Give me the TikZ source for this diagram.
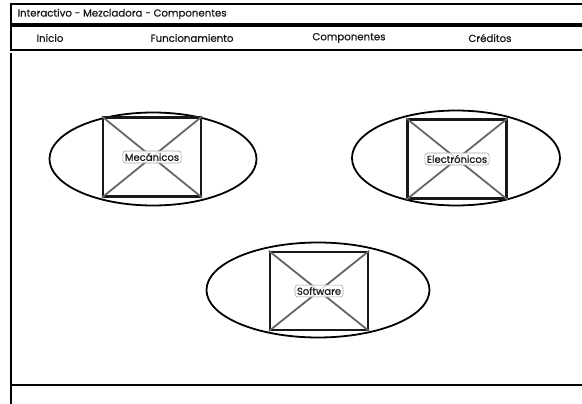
\documentclass[tikz,border=0pt]{standalone}
\usepackage{fontspec}
\setmainfont{Poppins}[FakeBold=0.6]
\usetikzlibrary{shapes.geometric}
\begin{document}
\begin{tikzpicture}[x=1pt,y=-1pt,
  frame/.style={draw=black,line width=2pt},
  oval/.style={draw=black,line width=1.8pt,ellipse,inner sep=0pt},
  imgbox/.style={draw=black!90,line width=2.2pt,inner sep=0pt},
  cross/.style={draw=black!60,line width=1.8pt},
  tag/.style={draw=black!35,line width=0.6pt,fill=white,fill opacity=0.85,text opacity=1,rounded corners=2.5pt,inner sep=2pt,font=\fontsize{10}{12}\selectfont},
  navtext/.style={font=\fontsize{10.2}{12}\selectfont,anchor=center},
  every node/.append style={text=black!90}]
\useasboundingbox (0,0) rectangle (582,404);
\fill[white] (0,0) rectangle (582,404);

% window title bar
\draw[frame] (582,4) -- (11,4) -- (11,24) -- (582,24);
\node[navtext,anchor=west] (title) at (14,14) {Interactivo - Mezcladora - Componentes};

% navigation bar
\draw[frame] (582,26) -- (11,26) -- (11,50) -- (582,50);
\node[navtext] (inicio) at (50,38) {Inicio};
\node[navtext] (func) at (192,38) {Funcionamiento};
\node[navtext] (comp) at (349,38) {Componentes};
\node[navtext] (cred) at (490,38) {Créditos};

% page body and footer
\draw[frame] (11,53) -- (11,404);
\draw[frame] (11,385) -- (582,385);

% component groups: oval, image placeholder, label
\foreach \n/\ex/\ey/\ew/\eh/\bx/\by/\bw/\bh/\lbl in {
  mec/153/159/207/93/152/157/98/79/Mecánicos,
  ele/456/158/208/95/457/159/99/79/Electrónicos,
  sof/318/290/223/95/319/291/98/78/Software}{
  \node[oval,minimum width=\ew,minimum height=\eh] (\n-oval) at (\ex,\ey) {};
  \node[imgbox,minimum width=\bw,minimum height=\bh] (\n-box) at (\bx,\by) {};
  \draw[cross] (\n-box.north west) -- (\n-box.south east);
  \draw[cross] (\n-box.north east) -- (\n-box.south west);
  \node[tag] (\n-tag) at (\n-box.center) {\lbl};
}
\end{tikzpicture}
\end{document}
